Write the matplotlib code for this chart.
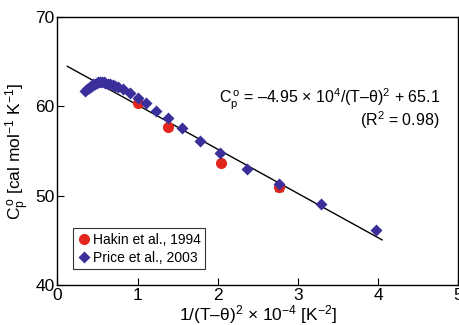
import numpy as np
import matplotlib
matplotlib.use("Agg")
import matplotlib.pyplot as plt

plt.rcParams['font.family'] = ['Liberation Sans', 'DejaVu Sans']
plt.rcParams['mathtext.fontset'] = 'custom'
plt.rcParams['mathtext.rm'] = 'Liberation Sans'
plt.rcParams['mathtext.it'] = 'Liberation Sans'
plt.rcParams['mathtext.default'] = 'regular'

# Price et al., 2003 (diamonds)
price_x = [0.35, 0.37, 0.39, 0.41, 0.43, 0.45, 0.47, 0.49, 0.51, 0.53, 0.56,
           0.58, 0.60, 0.63, 0.66, 0.69, 0.72, 0.76, 0.82, 0.91, 1.01, 1.11,
           1.23, 1.38, 1.56, 1.78, 2.03, 2.37, 2.77, 3.29, 3.98]
price_y = [61.7, 61.9, 62.05, 62.2, 62.3, 62.45, 62.55, 62.65, 62.7, 62.75, 62.75,
           62.7, 62.65, 62.55, 62.5, 62.4, 62.3, 62.2, 61.9, 61.5, 60.9, 60.4,
           59.5, 58.7, 57.6, 56.1, 54.8, 53.0, 51.3, 49.1, 46.2]

# Hakin et al., 1994 (circles)
hakin_x = [1.00, 1.38, 2.04, 2.77]
hakin_y = [60.4, 57.7, 53.7, 51.0]
hakin_err = [0.0, 0.0, 0.0, 0.45]

# linear fit Cp = -4.95 x + 65.1
fit_slope = -4.95
fit_icpt = 65.1
fit_range = [0.125, 4.05]

fig = plt.figure(figsize=(4.6, 3.25), dpi=100)
ax = fig.add_axes([0.1246, 0.123, 0.8717, 0.8247])

xf = np.array(fit_range)
ax.plot(xf, fit_slope * xf + fit_icpt, color='black', lw=1.0, zorder=2)

ax.errorbar(hakin_x, hakin_y, yerr=hakin_err, fmt='none', ecolor='black',
            elinewidth=0.8, capsize=3, zorder=2)
ax.plot(hakin_x, hakin_y, 'o', color='#e3261c', markersize=8, mec='none',
        label='Hakin et al., 1994', zorder=3)
ax.plot(price_x, price_y, 'D', color='#3b2f9b', markersize=6, mec='none',
        label='Price et al., 2003', zorder=4)

ax.set_xlim(0, 5)
ax.set_ylim(40, 70)
ax.set_xticks([0, 1, 2, 3, 4, 5])
ax.set_yticks([40, 50, 60, 70])
ax.tick_params(direction='in', length=5, width=0.8, labelsize=12.5, pad=2)
for s in ax.spines.values():
    s.set_linewidth(1.0)

ax.set_xlabel(r'1/(T–θ)$^2$ × 10$^{-4}$ [K$^{-2}$]', fontsize=12.5, labelpad=0)
ax.set_ylabel(r'C$_p^{\,o}$ [cal mol$^{-1}$ K$^{-1}$]', fontsize=12.5, labelpad=2)

ax.text(4.77, 60.8, r'C$_p^{\,o}$ = –4.95 × 10$^4$/(T–θ)$^2$ + 65.1',
        ha='right', va='center', fontsize=11.5)
ax.text(4.77, 58.4, r'(R$^2$ = 0.98)', ha='right', va='center', fontsize=11.5)

leg = ax.legend(loc='lower left', bbox_to_anchor=(0.038, 0.06), borderaxespad=0,
                fontsize=10, frameon=True, fancybox=False, handletextpad=0.2,
                handlelength=1.0, borderpad=0.3, labelspacing=0.3)
leg.get_frame().set_edgecolor('black')
leg.get_frame().set_linewidth(0.8)

fig.savefig('out.png', dpi=100)
